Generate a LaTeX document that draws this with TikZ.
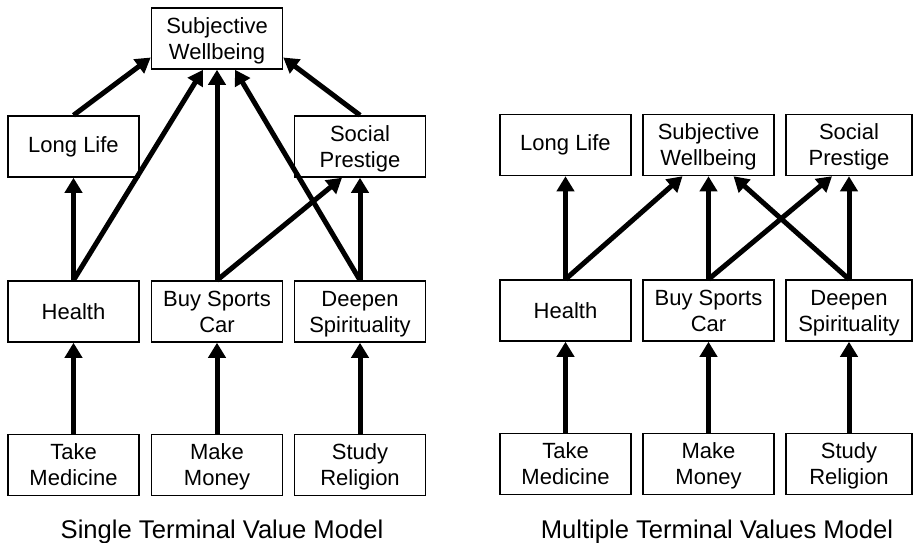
\documentclass[tikz,border=0pt]{standalone}
\usepackage{fontspec}
\setmainfont{Liberation Sans}
\usetikzlibrary{arrows.meta}
\begin{document}
\begin{tikzpicture}[x=1pt,y=-1pt,
  box/.style={draw,line width=1.5pt,minimum width=131pt,minimum height=61pt,inner sep=0pt,align=center,font=\fontsize{22}{26}\selectfont},
  twoline/.style={text depth=0pt},
  arr/.style={line width=5pt,-{Triangle[length=15pt,width=17pt]}},
  captxt/.style={anchor=base,font=\fontsize{25.6}{30}\selectfont}]
\useasboundingbox (0,0) rectangle (913,543);
% left panel
\node[box,twoline] (lsw) at (217,38.5) {Subjective\\Wellbeing};
\node[box] (lll) at (73.5,146.5) {Long Life};
\node[box,twoline] (lsp) at (360,146.5) {Social\\Prestige};
\node[box] (lhe) at (73.5,311.5) {Health};
\node[box,twoline] (lbs) at (217,311.5) {Buy Sports\\Car};
\node[box,twoline] (lds) at (360,311.5) {Deepen\\Spirituality};
\node[box,twoline] (ltm) at (73.5,465) {Take\\Medicine};
\node[box,twoline] (lmm) at (217,465) {Make\\Money};
\node[box,twoline] (lsr) at (360,465) {Study\\Religion};
\draw[arr] (lll.north) -- ([yshift=-19pt]lsw.west);
\draw[arr] (lsp.north) -- ([yshift=-19pt]lsw.east);
\draw[arr] (lhe.north) -- ([xshift=-14pt]lsw.south);
\draw[arr] (lbs.north) -- (lsw.south);
\draw[arr] (lds.north) -- ([xshift=18pt]lsw.south);
\draw[arr] (lhe.north) -- (lll.south);
\draw[arr] (lbs.north) -- ([xshift=-18pt]lsp.south);
\draw[arr] (lds.north) -- (lsp.south);
\draw[arr] (ltm.north) -- (lhe.south);
\draw[arr] (lmm.north) -- (lbs.south);
\draw[arr] (lsr.north) -- (lds.south);
\node[captxt] (lcap) at (222,538) {Single Terminal Value Model};
% right panel
\node[box] (rll) at (565.5,145) {Long Life};
\node[box,twoline] (rsw) at (708.5,145) {Subjective\\Wellbeing};
\node[box,twoline,minimum width=126pt] (rsp) at (849,145) {Social\\Prestige};
\node[box] (rhe) at (565.5,310.5) {Health};
\node[box,twoline] (rbs) at (708.5,310.5) {Buy Sports\\Car};
\node[box,twoline,minimum width=126pt] (rds) at (849,310.5) {Deepen\\Spirituality};
\node[box,twoline] (rtm) at (565.5,464) {Take\\Medicine};
\node[box,twoline] (rmm) at (708.5,464) {Make\\Money};
\node[box,twoline,minimum width=126pt] (rsr) at (849,464) {Study\\Religion};
\draw[arr] (rhe.north) -- (rll.south);
\draw[arr] (rhe.north) -- ([xshift=-26pt]rsw.south);
\draw[arr] (rbs.north) -- (rsw.south);
\draw[arr] (rbs.north) -- ([xshift=-17pt]rsp.south);
\draw[arr] (rds.north) -- ([xshift=25pt]rsw.south);
\draw[arr] (rds.north) -- (rsp.south);
\draw[arr] (rtm.north) -- (rhe.south);
\draw[arr] (rmm.north) -- (rbs.south);
\draw[arr] (rsr.north) -- (rds.south);
\node[captxt] (rcap) at (717,538) {Multiple Terminal Values Model};
\end{tikzpicture}
\end{document}
